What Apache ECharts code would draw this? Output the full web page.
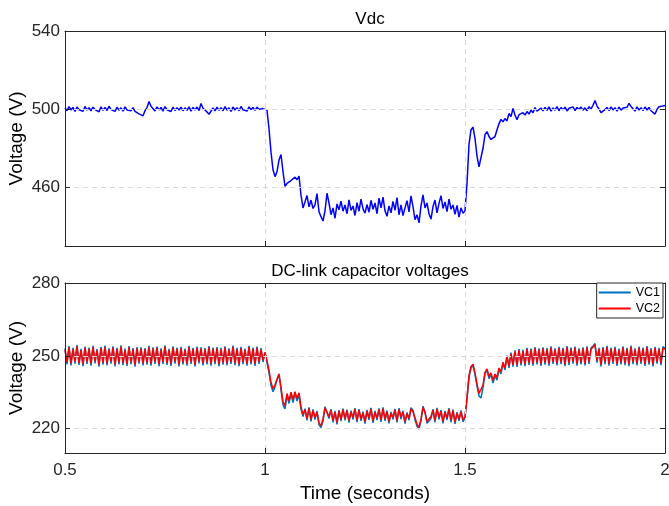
<!DOCTYPE html>
<html>
<head>
<meta charset="utf-8">
<script src="https://cdn.jsdelivr.net/npm/echarts@6/dist/echarts.min.js"></script>
<style>
  html, body { margin: 0; padding: 0; background: #fff; }
  #chart { width: 669px; height: 506px; }
</style>
</head>
<body>
<div id="chart"></div>
<script>
// sampling grid of the traces (seconds)
var t0 = 0.5;
var dt = 0.005;

// one row = 0.1 s
var vdc = [
  500.6, 499.2, 501.3, 499.6, 500.9, 498.8, 501.1, 499.7, 500.4, 498.9, 501.4, 499.5, 500.8, 499.1, 501.0, 499.8, 500.5, 498.7, 501.2, 499.4,
  500.9, 499.3, 501.5, 499.8, 500.3, 498.9, 501.0, 499.5, 500.7, 499.0, 501.2, 499.6, 500.5, 499.2, 500.8, 498.9, 499.0, 497.6, 497.8, 496.6,
  499.2, 500.8, 503.9, 501.5, 500.6, 499.1, 501.2, 499.6, 500.9, 499.0, 501.3, 499.7, 500.4, 498.8, 501.1, 499.3, 500.8, 499.5, 501.0, 499.2,
  500.7, 499.4, 501.2, 499.0, 500.9, 499.6, 501.1, 499.3, 502.9, 500.5, 500.2, 498.6, 497.4, 498.3, 500.6, 499.1, 501.0, 499.4, 500.8, 499.2,
  501.3, 499.5, 500.7, 498.9, 501.1, 499.6, 500.8, 499.2, 501.4, 499.7, 500.5, 499.0, 501.2, 499.8, 500.9, 499.4, 501.0, 499.9, 500.8, 500.3,
  500.6, 499.5, 490.0, 478.0, 469.0, 465.5, 468.0, 474.0, 476.8, 468.0, 460.5, 462.0, 461.5, 463.5, 462.8, 465.2, 463.9, 465.8, 456.0, 449.5,
  452.5, 455.8, 450.0, 453.5, 449.2, 451.0, 456.8, 447.5, 445.0, 442.8, 448.0, 457.0, 452.0, 446.0, 449.5, 444.2, 451.5, 448.5, 453.0, 447.8,
  451.0, 446.5, 453.6, 448.2, 450.5, 445.6, 452.2, 447.8, 454.0, 449.0, 446.8, 451.2, 447.3, 453.4, 448.8, 452.0, 446.5, 454.5, 449.5, 455.0,
  448.0, 445.2, 450.5, 447.0, 452.8, 448.2, 454.8, 446.0, 451.0, 445.6, 449.5, 453.2, 447.5, 455.6, 450.0, 443.5, 446.0, 441.8, 450.5, 456.2,
  449.5, 452.0, 446.5, 443.8, 450.2, 453.5, 447.0, 451.8, 455.8, 449.2, 452.5, 447.6, 454.0, 448.8, 451.0, 446.2, 450.8, 444.8, 449.5, 446.8,
  448.0, 462.0, 482.0, 489.5, 490.8, 485.0, 476.0, 470.5, 471.0, 480.0, 487.0, 488.5, 486.0, 484.5, 483.8, 486.0, 489.5, 492.5, 494.8, 493.5,
  495.2, 494.0, 497.8, 496.2, 500.4, 497.0, 494.6, 497.2, 496.4, 498.2, 497.0, 498.8, 497.5, 499.6, 498.2, 500.8, 499.0, 498.4, 500.6, 499.2,
  500.9, 499.4, 501.2, 499.0, 500.6, 499.5, 501.3, 499.2, 500.8, 499.7, 501.0, 499.1, 500.5, 499.6, 501.2, 499.3, 500.9, 499.8, 501.1, 499.5,
  500.7, 499.2, 501.3, 500.0, 502.0, 504.4, 501.6, 500.1, 498.2, 497.2, 499.8, 500.9, 499.3, 501.2, 499.6, 500.8, 499.0, 501.1, 499.5, 500.6,
  499.8, 501.0, 503.0, 501.4, 500.2, 499.0, 501.2, 499.5, 500.8, 499.3, 501.1, 499.6, 500.9, 499.2, 498.4, 497.5, 499.9, 501.2, 500.4, 501.6,
  501.9
];

var vc1 = [
  253.1, 246.5, 254.0, 246.1, 253.3, 246.8, 254.4, 246.3, 252.9, 245.8, 253.8, 246.7, 253.4, 246.0, 254.1, 246.9, 252.8, 245.6, 253.7, 246.4,
  254.2, 246.1, 253.1, 246.8, 253.9, 245.7, 253.3, 246.5, 254.3, 246.2, 253.0, 245.9, 254.0, 246.6, 253.2, 245.5, 253.6, 246.8, 253.5, 246.1,
  253.2, 246.4, 254.1, 246.0, 253.5, 246.7, 253.8, 245.8, 253.1, 246.6, 254.3, 246.3, 252.9, 245.9, 253.9, 246.8, 253.4, 245.7, 253.7, 246.5,
  253.0, 246.0, 254.1, 246.7, 253.3, 245.6, 253.8, 246.9, 253.5, 246.1, 253.2, 246.5, 254.0, 246.0, 253.4, 246.6, 253.6, 245.8, 253.3, 246.4,
  253.9, 246.1, 253.1, 246.7, 254.2, 246.2, 253.3, 245.8, 253.7, 246.6, 253.0, 246.0, 254.1, 246.5, 253.4, 245.9, 253.8, 246.7, 253.2, 247.4,
  251.0, 247.2, 243.0, 237.8, 235.2, 237.2, 240.2, 242.6, 236.0, 229.8, 228.2, 233.6, 230.4, 234.4, 230.8, 234.6, 231.4, 234.0, 228.0, 225.0,
  228.3, 223.4, 228.8, 223.0, 228.0, 223.8, 227.3, 221.6, 220.5, 223.2, 229.1, 229.5, 224.2, 228.1, 222.6, 227.3, 221.8, 227.7, 223.1, 228.3,
  223.4, 227.9, 222.5, 227.4, 223.8, 228.5, 222.7, 228.1, 223.2, 227.0, 222.1, 227.7, 223.6, 228.6, 222.4, 227.3, 223.5, 228.4, 222.8, 228.8,
  223.2, 227.5, 222.2, 226.9, 223.8, 228.2, 222.6, 228.5, 224.0, 227.4, 222.1, 226.7, 223.5, 228.7, 227.5, 223.7, 221.0, 219.9, 223.2, 229.3,
  227.0, 222.2, 221.4, 224.2, 228.1, 222.6, 228.6, 223.8, 227.7, 222.2, 227.3, 223.6, 228.5, 222.7, 227.9, 222.0, 226.8, 223.2, 227.5, 222.8,
  224.5, 232.0, 241.0, 245.0, 246.2, 242.2, 237.5, 233.5, 232.6, 237.0, 242.6, 244.2, 240.6, 242.4, 238.8, 241.8, 240.0, 244.4, 242.6, 246.9,
  244.2, 250.1, 245.0, 251.3, 245.6, 252.3, 245.4, 252.8, 246.1, 252.5, 245.8, 253.3, 246.3, 253.0, 246.0, 253.6, 246.5, 253.1, 245.9, 253.5,
  246.4, 253.2, 246.0, 253.9, 246.7, 253.1, 246.1, 253.7, 246.6, 253.3, 245.8, 254.0, 246.3, 253.4, 246.8, 253.8, 246.0, 253.1, 246.5, 253.5,
  246.1, 253.9, 246.7, 253.2, 254.1, 255.1, 247.2, 253.3, 245.6, 253.6, 246.6, 254.1, 246.0, 253.4, 246.7, 253.7, 245.9, 253.0, 246.5, 253.9,
  246.2, 253.3, 245.8, 254.2, 246.6, 253.1, 246.1, 253.8, 246.7, 253.4, 245.9, 254.0, 246.4, 253.2, 245.7, 253.7, 246.8, 253.3, 246.2, 253.8,
  253.1
];

var vc2 = [
  252.6, 247.3, 253.5, 246.9, 252.8, 247.6, 253.9, 247.1, 252.4, 246.6, 253.3, 247.5, 252.9, 246.8, 253.6, 247.7, 252.3, 246.4, 253.2, 247.2,
  253.7, 246.9, 252.6, 247.6, 253.4, 246.5, 252.8, 247.3, 253.8, 247.0, 252.5, 246.7, 253.5, 247.4, 252.7, 246.3, 253.1, 247.6, 253.0, 246.9,
  252.7, 247.2, 253.6, 246.8, 253.0, 247.5, 253.3, 246.6, 252.6, 247.4, 253.8, 247.1, 252.4, 246.7, 253.4, 247.6, 252.9, 246.5, 253.2, 247.3,
  252.5, 246.8, 253.6, 247.5, 252.8, 246.4, 253.3, 247.7, 253.0, 246.9, 252.7, 247.3, 253.5, 246.8, 252.9, 247.4, 253.1, 246.6, 252.8, 247.2,
  253.4, 246.9, 252.6, 247.5, 253.7, 247.0, 252.8, 246.6, 253.2, 247.4, 252.5, 246.8, 253.6, 247.3, 252.9, 246.7, 253.3, 247.5, 252.7, 248.2,
  251.5, 248.0, 244.0, 239.0, 236.5, 238.0, 240.5, 242.4, 237.0, 231.0, 229.5, 234.5, 231.5, 235.0, 232.0, 235.2, 232.4, 234.8, 229.0, 225.8,
  227.8, 224.2, 228.3, 223.8, 227.5, 224.6, 226.8, 222.4, 221.2, 224.0, 228.6, 229.0, 225.0, 227.6, 223.4, 226.8, 222.6, 227.2, 223.9, 227.8,
  224.2, 227.4, 223.3, 226.9, 224.6, 228.0, 223.5, 227.6, 224.0, 226.5, 222.9, 227.2, 224.4, 228.1, 223.2, 226.8, 224.3, 227.9, 223.6, 228.3,
  224.0, 227.0, 223.0, 226.4, 224.6, 227.7, 223.4, 228.0, 224.8, 226.9, 222.9, 226.2, 224.3, 228.2, 227.0, 224.5, 221.8, 220.6, 224.0, 228.8,
  226.5, 223.0, 222.2, 225.0, 227.6, 223.4, 228.1, 224.6, 227.2, 223.0, 226.8, 224.4, 228.0, 223.5, 227.4, 222.8, 226.3, 224.0, 227.0, 223.6,
  225.0, 233.0, 242.0, 245.5, 246.6, 243.0, 238.5, 234.5, 233.8, 238.0, 243.2, 244.6, 241.5, 243.0, 239.8, 242.5, 241.0, 245.0, 243.5, 247.4,
  245.0, 249.6, 245.8, 250.8, 246.4, 251.8, 246.2, 252.3, 246.9, 252.0, 246.6, 252.8, 247.1, 252.5, 246.8, 253.1, 247.3, 252.6, 246.7, 253.0,
  247.2, 252.7, 246.8, 253.4, 247.5, 252.6, 246.9, 253.2, 247.4, 252.8, 246.6, 253.5, 247.1, 252.9, 247.6, 253.3, 246.8, 252.6, 247.3, 253.0,
  246.9, 253.4, 247.5, 252.7, 253.6, 254.6, 248.0, 252.8, 246.4, 253.1, 247.4, 253.6, 246.8, 252.9, 247.5, 253.2, 246.7, 252.5, 247.3, 253.4,
  247.0, 252.8, 246.6, 253.7, 247.4, 252.6, 246.9, 253.3, 247.5, 252.9, 246.7, 253.5, 247.2, 252.7, 246.5, 253.2, 247.6, 252.8, 247.0, 253.3,
  252.6
];

var topTicks = [460, 500, 540];
var bottomTicks = [220, 250, 280];
var titles = ["Vdc", "DC-link capacitor voltages"];

var font = "Liberation Sans";
var ink = "#262626";

function pairs(values) {
  return values.map(function (v, i) {
    return [+(t0 + i * dt).toFixed(3), v];
  });
}

function xAxis(gridIndex, onTop) {
  var main = !onTop && gridIndex === 1;
  return {
    type: "value",
    gridIndex: gridIndex,
    position: onTop ? "top" : "bottom",
    min: 0.5,
    max: 2,
    interval: 0.5,
    axisLine: { show: true, lineStyle: { color: ink, width: 1 } },
    axisTick: { show: true, inside: true, length: 5, lineStyle: { color: ink } },
    axisLabel: {
      show: main,
      margin: 9,
      color: ink,
      fontFamily: font,
      fontSize: 17,
      formatter: function (v) { return String(v); }
    },
    splitLine: {
      show: !onTop,
      lineStyle: { color: "#d9d9d9", type: [5, 4], width: 1 }
    },
    name: main ? "Time (seconds)" : "",
    nameLocation: "middle",
    nameGap: 31,
    nameMoveOverlap: false,
    nameTextStyle: { color: "#000", fontFamily: font, fontSize: 19 },
    z: 5
  };
}

function yAxis(gridIndex, onRight, min, max, ticks) {
  return {
    type: "value",
    gridIndex: gridIndex,
    position: onRight ? "right" : "left",
    min: min,
    max: max,
    axisLine: { show: true, lineStyle: { color: ink, width: 1 } },
    axisTick: {
      show: true, inside: true, length: 5,
      customValues: ticks,
      lineStyle: { color: ink }
    },
    axisLabel: {
      show: !onRight,
      customValues: ticks,
      margin: 5,
      color: ink,
      fontFamily: font,
      fontSize: 17
    },
    splitLine: {
      show: !onRight,
      lineStyle: { color: "#d9d9d9", type: [5, 4], width: 1 }
    },
    name: onRight ? "" : "Voltage (V)",
    nameLocation: "middle",
    nameGap: 39,
    nameMoveOverlap: false,
    nameTextStyle: { color: "#000", fontFamily: font, fontSize: 19 },
    z: 5
  };
}

function initChart() {
  var titleStyle = { fontFamily: font, fontSize: 17, fontWeight: "normal", color: "#000" };
  var option = {
    animation: false,
    title: [
      { text: titles[0], left: 365, top: 6, textAlign: "center", textStyle: titleStyle },
      { text: titles[1], left: 365, top: 258, textAlign: "center", textStyle: titleStyle }
    ],
    grid: [
      { left: 65, top: 31, right: 4, height: 215, outerBoundsMode: "none", containLabel: false },
      { left: 65, top: 283, right: 4, height: 170, outerBoundsMode: "none", containLabel: false }
    ],
    legend: {
      data: ["VC1", "VC2"],
      orient: "vertical",
      right: 6,
      top: 283,
      icon: "rect",
      itemWidth: 32,
      itemHeight: 2,
      itemGap: 3,
      padding: [3, 3, 3, 2],
      borderColor: ink,
      borderWidth: 1,
      borderRadius: 0,
      backgroundColor: "#fff",
      textStyle: { fontFamily: font, fontSize: 12.5, color: "#000" },
      z: 10
    },
    xAxis: [xAxis(0, false), xAxis(0, true), xAxis(1, false), xAxis(1, true)],
    yAxis: [
      yAxis(0, false, 430, 540, topTicks),
      yAxis(0, true, 430, 540, topTicks),
      yAxis(1, false, 210, 280, bottomTicks),
      yAxis(1, true, 210, 280, bottomTicks)
    ],
    series: [
      {
        name: "Vdc", type: "line", xAxisIndex: 0, yAxisIndex: 0,
        symbol: "none", color: "#0000ff",
        lineStyle: { width: 1.5 },
        data: pairs(vdc)
      },
      {
        name: "VC1", type: "line", xAxisIndex: 2, yAxisIndex: 2,
        symbol: "none", color: "#0072bd",
        lineStyle: { width: 1.5 },
        data: pairs(vc1)
      },
      {
        name: "VC2", type: "line", xAxisIndex: 2, yAxisIndex: 2,
        symbol: "none", color: "#ff0000",
        lineStyle: { width: 1.5 },
        data: pairs(vc2)
      }
    ]
  };
  return option;
}

var chart = echarts.init(document.getElementById("chart"));
chart.setOption(initChart());
</script>
</body>
</html>
